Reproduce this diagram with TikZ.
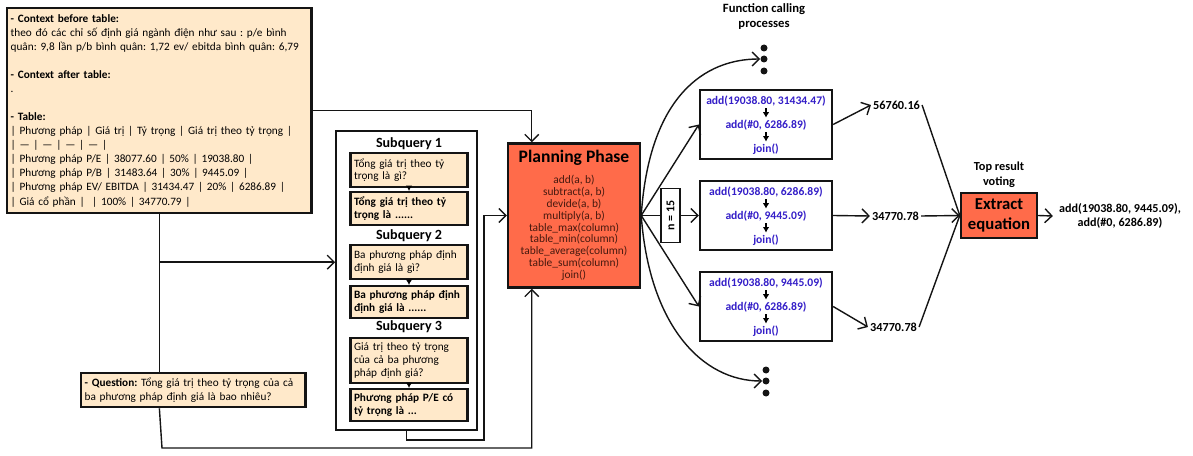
\documentclass[tikz,border=0pt]{standalone}
\usepackage{fontspec}
\setmainfont{Carlito}
\usetikzlibrary{arrows.meta,positioning}
\definecolor{boxpeach}{RGB}{255,233,202}
\definecolor{boxtomato}{RGB}{255,107,74}
\definecolor{textblue}{RGB}{52,30,200}
\definecolor{textbrown}{RGB}{70,25,15}
\definecolor{lineblack}{RGB}{20,20,20}
\frenchspacing

\begin{document}
\begin{tikzpicture}[x=0.02cm, y=-0.02cm, font=\fontsize{6.4}{8}\selectfont,
  peach/.style={draw=lineblack, fill=boxpeach, line width=1.3pt, inner sep=2pt, align=left},
  qbox/.style={peach, anchor=north, text width=2.2cm, font=\fontsize{6.4}{7.2}\selectfont},
  sqtitle/.style={font=\bfseries\fontsize{8}{9}\selectfont, inner sep=0pt},
  tomatobox/.style={draw=lineblack, fill=boxtomato, line width=1.4pt, align=center},
  fcbox/.style={draw=lineblack, fill=white, line width=1.3pt, minimum width=2.64cm, minimum height=1.38cm},
  fctext/.style={text=textblue, font=\bfseries\fontsize{6.6}{7}\selectfont, inner sep=1pt},
  result/.style={font=\bfseries\fontsize{7}{8}\selectfont, inner sep=1pt},
  calldot/.style={circle, fill=lineblack, minimum size=0.14cm, inner sep=0pt},
  conn/.style={line width=0.8pt, draw=lineblack},
  arr/.style={conn, -{Straight Barb[length=1.4mm]}},
  tinyarr/.style={line width=0.8pt, -{Latex[length=1.1mm,width=1.3mm]}},
]
\useasboundingbox (0,0) rectangle (1193,456);

% input boxes
\node[peach, anchor=north west, text width=5.95cm, minimum height=4.1cm] (ctx) at (6,7)
  {\textbf{- Context before table:}\\
   theo đó các chỉ số định giá ngành điện như sau : p/e bình\\
   quân: 9,8 lần p/b bình quân: 1,72 ev/ ebitda bình quân: 6,79\\[8pt]
   \textbf{- Context after table:}\\
   .\\[8pt]
   \textbf{- Table:}\\
   | Phương pháp | Giá trị | Tỷ trọng | Giá trị theo tỷ trọng |\\
   | --- | --- | --- | --- |\\
   | Phương pháp P/E | 38077.60 | 50\% | 19038.80 |\\
   | Phương pháp P/B | 31483.64 | 30\% | 9445.09 |\\
   | Phương pháp EV/ EBITDA | 31434.47 | 20\% | 6286.89 |\\
   | Giá cổ phần | \ | 100\% | 34770.79 |};
\node[peach, anchor=north west, text width=4.35cm, minimum height=0.68cm] (quest) at (80,372)
  {\textbf{- Question:} Tổng giá trị theo tỷ trọng của cả\\ ba phương pháp định giá là bao nhiêu?};

% subqueries
\node[draw=lineblack, line width=1pt, minimum width=2.82cm, minimum height=5.98cm] (sqframe) at (406.5,280.5) {};
\node[sqtitle] (sqt1) at (409,144) {Subquery 1};
\node[qbox, minimum height=0.68cm] (qa1) at (409,152) {Tổng giá trị theo tỷ\\ trọng là gì?};
\node[qbox, minimum height=0.66cm] (qb1) at (409,191) {\textbf{Tổng giá trị theo tỷ}\\ \textbf{trọng là ......}};
\node[sqtitle] (sqt2) at (409,236) {Subquery 2};
\node[qbox, minimum height=0.68cm] (qa2) at (409,244) {Ba phương pháp định\\ định giá là gì?};
\node[qbox, minimum height=0.64cm] (qb2) at (409,285) {\textbf{Ba phương pháp định}\\ \textbf{định giá là ......}};
\node[sqtitle] (sqt3) at (409,327) {Subquery 3};
\node[qbox, minimum height=0.9cm] (qa3) at (409,337) {Giá trị theo tỷ trọng\\ của cả ba phương\\ pháp định giá?};
\node[qbox, minimum height=0.64cm] (qb3) at (409,388) {\textbf{Phương pháp P/E có}\\ \textbf{tỷ trọng là ...}};
\draw[tinyarr] (qa1) -- (qb1);
\draw[tinyarr] (qa2) -- (qb2);
\draw[tinyarr] (qa3) -- (qb3);

% planning
\node[tomatobox, minimum width=2.64cm, minimum height=2.88cm, text=textbrown,
      font=\fontsize{6.5}{6.75}\selectfont] (plan) at (574,215.5)
  {{\color{black}\bfseries\fontsize{10}{12}\selectfont Planning Phase}\\[5pt]
   add(a, b)\\ subtract(a, b)\\ devide(a, b)\\ multiply(a, b)\\ table\_max(column)\\
   table\_min(column)\\ table\_average(column)\\ table\_sum(column)\\ join()};

\draw[arr] (ctx.east) -| ([xshift=0.5cm]plan.north west);
\draw[conn] (ctx.south) -- (ctx.south |- quest.north);
\draw[arr] (ctx.south |- qa2) -- (sqframe.west |- qa2);
\coordinate (busend) at (162,448);
\draw[arr] (ctx.south |- quest.south) -- (busend) -| ([xshift=0.5cm]plan.south west);
\coordinate (loopc) at (484,440);
\draw[arr] (sqframe.south) |- (loopc) |- (plan.west);

% function calling
\node[font=\bfseries\fontsize{7.2}{8.5}\selectfont, align=center] (fctitle) at (764,17) {Function calling\\ processes};
\foreach \i/\yy in {1/48,2/59,3/71}
  \node[calldot] (dt\i) at (764,\yy) {};
\foreach \i/\yy in {1/370,2/381,3/393}
  \node[calldot] (db\i) at (766,\yy) {};

\node[fcbox] (fc1) at (766,124.5) {};
\node[fctext] (fc1a) at (766,101) {add(19038.80, 31434.47)};
\node[fctext] (fc1b) at (766,125) {add(\#0, 6286.89)};
\node[fctext] (fc1c) at (766,149) {join()};
\node[fcbox] (fc2) at (766,215.5) {};
\node[fctext] (fc2a) at (766,192) {add(19038.80, 6286.89)};
\node[fctext] (fc2b) at (766,216) {add(\#0, 9445.09)};
\node[fctext] (fc2c) at (766,240) {join()};
\node[fcbox] (fc3) at (766,306.5) {};
\node[fctext] (fc3a) at (766,283) {add(19038.80, 9445.09)};
\node[fctext] (fc3b) at (766,307) {add(\#0, 6286.89)};
\node[fctext] (fc3c) at (766,331) {join()};
\foreach \k in {1,2,3} {
  \draw[tinyarr] (fc\k a) -- (fc\k b);
  \draw[tinyarr] (fc\k b) -- (fc\k c);
}

\node[draw=lineblack, fill=white, line width=1.1pt, rotate=90, minimum width=1.08cm, minimum height=0.38cm,
      inner sep=1pt, font=\bfseries\fontsize{6.8}{7}\selectfont] (nbox) at (670.5,215.5) {n = 15};

\draw[arr] (plan.east) .. controls +(8,-120) and +(-55,0) .. (dt2.west);
\draw[arr] (plan.east) .. controls +(8,110) and +(-60,0) .. (db2.west);
\draw[arr] (plan.east) -- (fc1.west);
\draw[conn] (plan.east) -- (nbox);
\draw[arr] (nbox) -- (fc2.west);
\draw[arr] (plan.east) -- (fc3.west);

% voting
\node[result] (r1) at (896.5,105) {56760.16};
\node[result] (r2) at (895.5,216) {34770.78};
\node[result] (r3) at (893.5,327) {34770.78};
\draw[arr] (fc1.east) -- (r1.west);
\draw[arr] (fc2.east) -- (r2.west);
\draw[arr] (fc3.east) -- (r3.west);

\node[tomatobox, minimum width=1.52cm, minimum height=0.9cm, inner sep=1pt,
      font=\bfseries\fontsize{9.5}{11}\selectfont] (extr) at (999,215.5) {Extract\\ equation};
\node[font=\bfseries\fontsize{7}{8.5}\selectfont, align=center] (vote) at (999,175) {Top result\\ voting};
\draw[conn] (r1.east) -- (extr.west);
\draw[arr] (r2.east) -- (extr.west);
\draw[conn] (r3.east) -- (extr.west);

\node[font=\bfseries\fontsize{6.9}{7.8}\selectfont, align=center] (outp) at (1120,216)
  {add(19038.80, 9445.09),\\ add(\#0, 6286.89)};
\draw[arr] (extr.east) -- (outp.west);
\end{tikzpicture}
\end{document}
